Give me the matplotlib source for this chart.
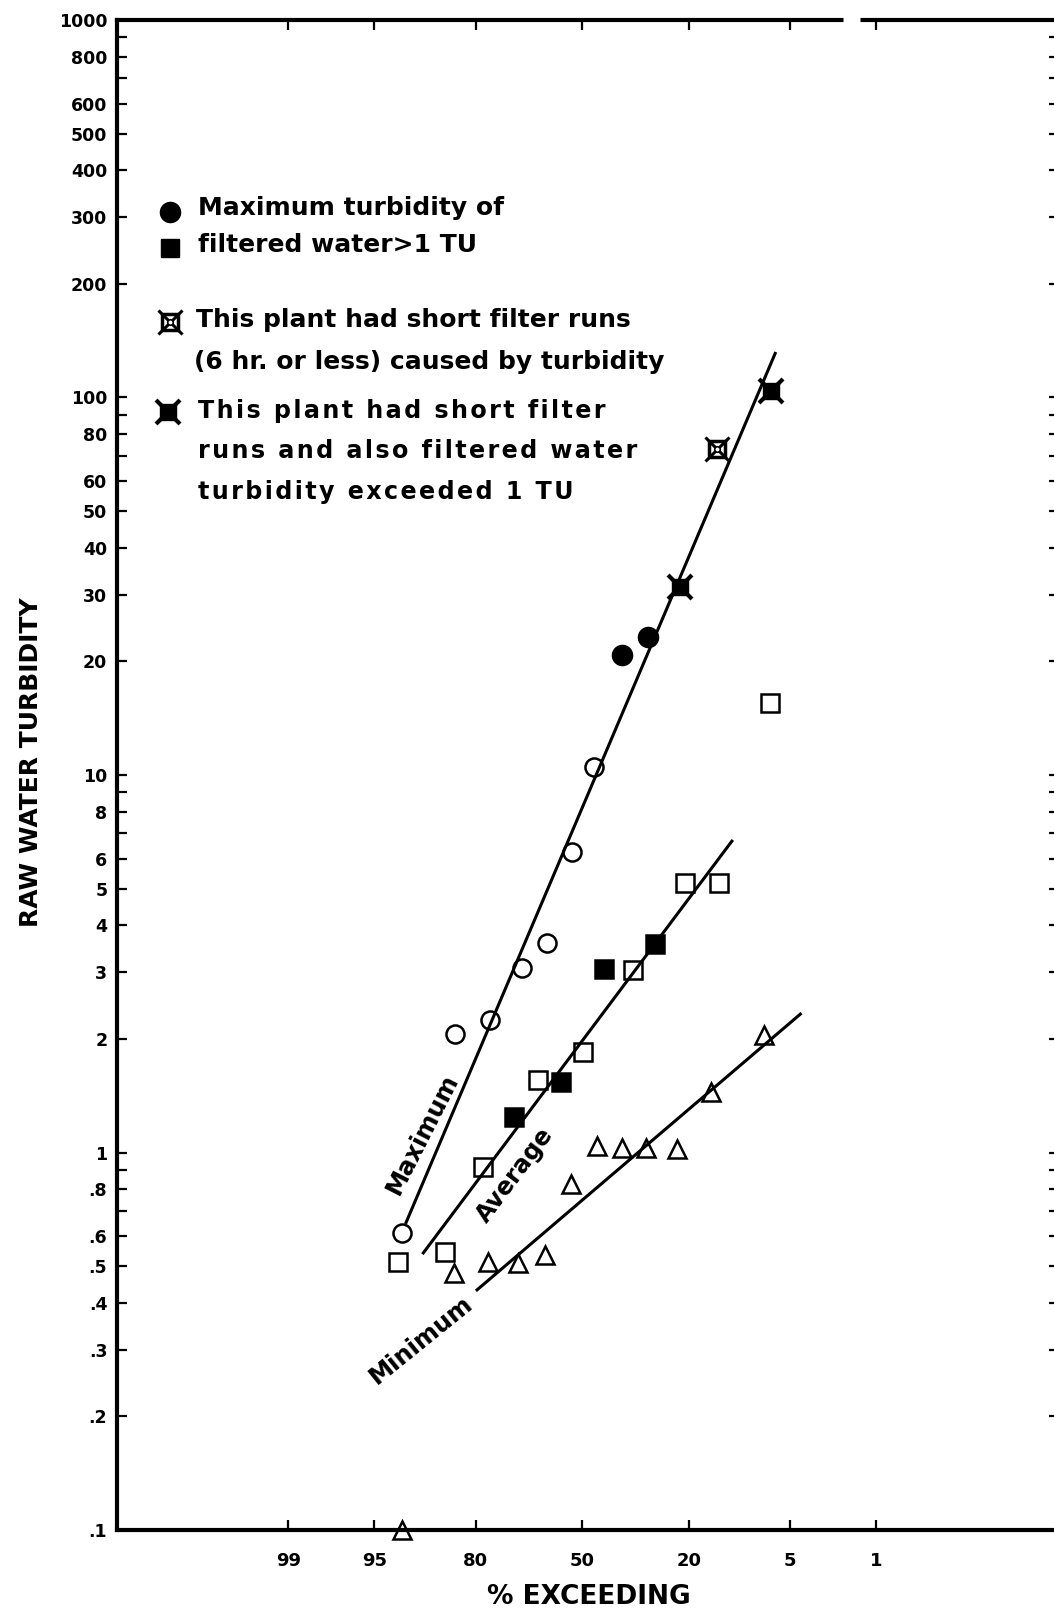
import numpy as np
import matplotlib
matplotlib.use('Agg')
import matplotlib.pyplot as plt
from matplotlib.ticker import FixedLocator, FuncFormatter, NullLocator
from statistics import NormalDist

W, H = 1054, 1616

# ---- data (percent exceeding, raw water turbidity) ----
max_pct = [92.3, 84.3, 76.7, 68.3, 60.9, 53.4, 46.2, 37.8, 30.3, 22.0, 14.4, 6.8]
max_val = [0.611, 2.06, 2.25, 3.09, 3.58, 6.26, 10.5, 20.8, 23.2, 31.4, 72.9, 104]
# o = open, f = filtered water > 1 TU, r = short runs, rf = short runs and > 1 TU
max_kind = ['o', 'o', 'o', 'o', 'o', 'o', 'o', 'f', 'f', 'rf', 'r', 'rf']

avg_pct = [92.8, 86.1, 78.5, 70.6, 63.8, 56.7, 49.9, 43.1, 34.5, 28.3, 20.9, 13.9, 6.9]
avg_val = [0.514, 0.546, 0.917, 1.24, 1.56, 1.54, 1.85, 3.06, 3.04, 3.56, 5.18, 5.17, 15.5]
avg_filled = [False, False, False, True, False, True, False, True, False, True, False, False, False]

min_pct = [92.3, 84.4, 77.3, 69.4, 61.6, 53.7, 45.3, 37.6, 30.6, 22.6, 15.5, 7.5]
min_val = [0.10, 0.479, 0.514, 0.509, 0.535, 0.825, 1.04, 1.03, 1.03, 1.02, 1.45, 2.05]

# fitted lines (end points)
max_line_pct = [91.9, 6.3]
max_line_val = [0.647, 132]
avg_line_pct = [89.7, 11.7]
avg_line_val = [0.538, 6.73]
min_line_pct = [80.0, 4.15]
min_line_val = [0.430, 2.34]

x_ticks = [99, 95, 80, 50, 20, 5, 1]
y_major = [0.1, 0.2, 0.3, 0.4, 0.5, 0.6, 0.8, 1, 2, 3, 4, 5, 6, 8, 10, 20, 30, 40, 50,
           60, 80, 100, 200, 300, 400, 500, 600, 800, 1000]
y_minor = [0.7, 0.9, 7, 9, 70, 90, 700, 900]

# text, left x, centre y (pixels), widely spaced?
legend_lines = [
    ("Maximum turbidity of", 198, 208, False),
    ("filtered water>1 TU", 198, 245, False),
    ("This plant had short filter runs", 196, 320, False),
    ("(6 hr. or less) caused by turbidity", 194, 362, False),
    ("This plant had short filter", 198, 411, True),
    ("runs and also filtered water", 198, 451, True),
    ("turbidity exceeded 1 TU", 198, 492, True),
]

plt.rcParams['font.family'] = ['DejaVu Sans']
plt.rcParams['font.weight'] = 'bold'

nd = NormalDist()
_ppf = np.vectorize(nd.inv_cdf, otypes=[float])
_cdf = np.vectorize(nd.cdf, otypes=[float])


def prob_fwd(p):
    p = np.asarray(p, dtype=float)
    out = np.full(p.shape, np.nan)
    ok = np.isfinite(p)
    out[ok] = _ppf(np.clip(p[ok], 1e-6, 100 - 1e-6) / 100.0)
    return out


def prob_inv(z):
    return 100.0 * _cdf(np.asarray(z, dtype=float))


def px(x, y):
    # pixel position in the figure -> figure fraction
    return x / W, 1 - y / H


def xsquare(ax, x, y, filled, transform=None, size=12):
    kw = dict(clip_on=False, zorder=5, linestyle='none')
    if transform is not None:
        kw['transform'] = transform
    if filled:
        ax.plot(x, y, marker='s', ms=size, mfc='black', mec='black', mew=1, **kw)
        ax.plot(x, y, marker='x', ms=size * 1.4, mec='black', mew=3, **kw)
    else:
        ax.plot(x, y, marker='s', ms=size, mfc='white', mec='black', mew=2.5, **kw)
        ax.plot(x, y, marker='x', ms=size * 1.4, mec='black', mew=2.2, **kw)
        ax.plot(x, y, marker='o', ms=4, mfc='white', mec='black', mew=1.2, **kw)


fig = plt.figure(figsize=(W / 100, H / 100), dpi=100)
ax = fig.add_axes([117 / W, (H - 1530) / H, (1059 - 117) / W, 1510 / H])
ax.set_xscale('function', functions=(prob_fwd, prob_inv))
ax.set_yscale('log')
ax.set_xlim(100 * nd.cdf(3.68), 100 * nd.cdf(-3.77))
ax.set_ylim(0.1, 1000)

# fitted lines
for lp, lv in [(max_line_pct, max_line_val), (avg_line_pct, avg_line_val),
               (min_line_pct, min_line_val)]:
    ax.plot(lp, lv, color='black', lw=2.2, zorder=2, solid_capstyle='butt')

# maximum points
for p, v, k in zip(max_pct, max_val, max_kind):
    if k == 'o':
        ax.plot(p, v, marker='o', ms=13, mfc='none', mec='black', mew=1.8, zorder=4)
    elif k == 'f':
        ax.plot(p, v, marker='o', ms=14.5, mfc='black', mec='black', zorder=4)
    else:
        xsquare(ax, p, v, filled=(k == 'rf'))

# average points
for p, v, f in zip(avg_pct, avg_val, avg_filled):
    ax.plot(p, v, marker='s', ms=12.5, mfc='black' if f else 'none', mec='black',
            mew=1.8, zorder=4)

# minimum points
ax.plot(min_pct, min_val, linestyle='none', marker='^', ms=13, mfc='none', mec='black',
        mew=1.8, zorder=4, clip_on=False)

# axes styling
ax.xaxis.set_major_locator(FixedLocator(x_ticks))
ax.xaxis.set_minor_locator(NullLocator())
ax.xaxis.set_major_formatter(FuncFormatter(lambda v, pos: f'{v:g}'))
ax.yaxis.set_major_locator(FixedLocator(y_major))
ax.yaxis.set_minor_locator(FixedLocator(y_minor))


def ylab(v, pos):
    s = f'{v:g}'
    return s[1:] if s.startswith('0.') else s


ax.yaxis.set_major_formatter(FuncFormatter(ylab))
ax.tick_params(which='both', direction='in', top=True, right=True, length=7, width=1.6,
               labelsize=12.5)
ax.tick_params(axis='y', pad=7)
ax.tick_params(axis='x', pad=16, labelsize=13)
for s in ax.spines.values():
    s.set_linewidth(3)
# small break in the top border, as on the original sheet
ax.plot([(843 - 117) / 942, (860 - 117) / 942], [1, 1], color='white', lw=5,
        transform=ax.transAxes, clip_on=False, zorder=6, solid_capstyle='butt')

fig.text(*px(31, 762), 'RAW WATER TURBIDITY', rotation=90, ha='center', va='center',
         fontsize=18, fontweight='bold')
fig.text(*px(589, 1597), '% EXCEEDING', ha='center', va='center', fontsize=19,
         fontweight='bold')

# line labels
fig.text(*px(422, 1134), 'Maximum', rotation=63, ha='center', va='center', fontsize=17.5,
         rotation_mode='anchor')
fig.text(*px(515, 1175), 'Average', rotation=53, ha='center', va='center', fontsize=17.5,
         rotation_mode='anchor')
fig.text(*px(421, 1340), 'Minimum', rotation=39, ha='center', va='center', fontsize=17.5,
         rotation_mode='anchor')

# legend
ax.plot(*px(170, 212), marker='o', ms=14.5, mfc='black', mec='black',
        transform=fig.transFigure, clip_on=False)
ax.plot(*px(170, 248), marker='s', ms=12.5, mfc='black', mec='black',
        transform=fig.transFigure, clip_on=False)
xsquare(ax, *px(170, 322), filled=False, transform=fig.transFigure)
xsquare(ax, *px(168, 412), filled=True, transform=fig.transFigure)
for txt, x, y, wide in legend_lines:
    size = 18
    if wide:
        txt = '\u200a'.join(txt)
        size = 17.2
    fig.text(*px(x, y), txt, ha='left', va='center', fontsize=size, fontweight='bold')

fig.savefig('out.png', dpi=100)
